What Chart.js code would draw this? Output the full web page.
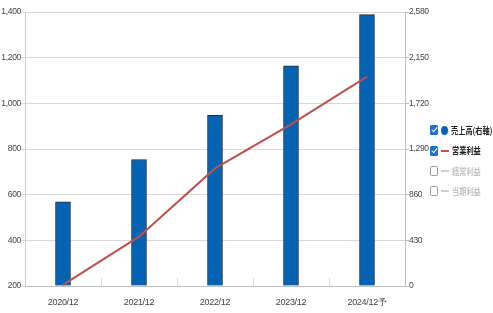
<!DOCTYPE html>
<html>
<head>
<meta charset="utf-8">
<script src="https://cdn.jsdelivr.net/npm/chart.js@4.4.1/dist/chart.umd.min.js"></script>
<style>
html, body { margin: 0; padding: 0; background: #fff; }
#wrap { position: relative; width: 493px; height: 313px; }
#legend { position: absolute; left: 430px; top: 120px; font: bold 9px "Noto Sans CJK JP", sans-serif; }
.row { display: flex; align-items: center; height: 20px; white-space: nowrap; }
.row:nth-child(2) { height: 21px; }
.box { width: 8px; height: 10px; box-sizing: border-box; border-radius: 1.5px; position: relative; margin-right: 3px; }
.box.on { background: #1e6fd9; }
.box.on::after { content: ''; position: absolute; left: 2.5px; top: 1px; width: 2px; height: 5px; border: solid #fff; border-width: 0 1.5px 1.5px 0; transform: rotate(40deg); }
.box.off { border: 1px solid #999; background: #fff; }
.dot { width: 7px; height: 9px; border-radius: 50%; background: #0563b4; margin-right: 3px; }
.dash { width: 8px; height: 2px; margin-right: 3px; }
.t { color: #222; display: inline-block; transform: scaleX(0.8); transform-origin: left center; }
.row.off .t { color: #c4c4c4; }
</style>
</head>
<body>
<div id="wrap">
  <canvas id="c" width="493" height="313"></canvas>
  <div id="legend">
    <div class="row"><div class="box on"></div><div class="dot"></div><span class="t">売上高(右軸)</span></div>
    <div class="row"><div class="box on"></div><div class="dash" style="background:#c0504d"></div><span class="t">営業利益</span></div>
    <div class="row off"><div class="box off"></div><div class="dash" style="background:#d0d0d0"></div><span class="t">経常利益</span></div>
    <div class="row off"><div class="box off"></div><div class="dash" style="background:#d0d0d0"></div><span class="t">当期利益</span></div>
  </div>
</div>
<script>
// --- data ---
const categories = ['2020/12', '2021/12', '2022/12', '2023/12', '2024/12予'];
const salesValues = [792, 1191, 1606, 2072, 2556];      // 売上高 (right axis)
const opProfitValues = [205, 416, 715, 908, 1117];      // 営業利益 (left axis)
const leftTicks = [200, 400, 600, 800, 1000, 1200, 1400];
const rightTicks = [0, 430, 860, 1290, 1720, 2150, 2580];

const xFont = { family: '"Liberation Sans", Arial, sans-serif', size: 9 };
const yFont = { family: '"Liberation Sans", Arial, sans-serif', size: 8.5 };

// squeeze tick text a little, the original uses a narrow face
const narrowText = {
    id: 'narrowText',
    beforeDraw(chart) { chart.ctx.letterSpacing = '-0.3px'; }
};

new Chart(document.getElementById('c'), {
    data: {
        labels: categories,
        datasets: [
            {
                type: 'line',
                label: '営業利益',
                data: opProfitValues,
                yAxisID: 'yL',
                borderColor: '#c0504d',
                borderWidth: 2,
                pointRadius: 0,
                tension: 0,
                order: 0
            },
            {
                type: 'bar',
                label: '売上高(右軸)',
                data: salesValues,
                yAxisID: 'yR',
                backgroundColor: '#0563b4',
                borderColor: '#1c2f45',
                borderWidth: 1,
                borderSkipped: 'bottom',
                barThickness: 15,
                order: 1
            }
        ]
    },
    plugins: [narrowText],
    options: {
        responsive: false,
        animation: false,
        devicePixelRatio: 1,
        layout: { padding: { top: 12, left: 0, right: 0, bottom: 0 } },
        plugins: { legend: { display: false }, tooltip: { enabled: false } },
        scales: {
            x: {
                offset: true,
                grid: { drawOnChartArea: false, tickLength: -8, color: '#d8d8d8', offset: true },
                border: { color: '#bdbdbd' },
                ticks: { font: xFont, color: '#444', padding: 19, maxRotation: 0 },
                afterFit: s => { s.height = 27; }
            },
            yL: {
                position: 'left',
                min: leftTicks[0],
                max: leftTicks[leftTicks.length - 1],
                afterBuildTicks: s => { s.ticks = leftTicks.map(v => ({ value: v })); },
                grid: { color: '#d9d9d9', tickLength: 4 },
                border: { color: '#cfcfcf' },
                ticks: { font: yFont, color: '#444', padding: 0, callback: v => v.toLocaleString('en-US') },
                afterFit: s => { s.width = 25; }
            },
            yR: {
                position: 'right',
                min: rightTicks[0],
                max: rightTicks[rightTicks.length - 1],
                afterBuildTicks: s => { s.ticks = rightTicks.map(v => ({ value: v })); },
                grid: { drawOnChartArea: false, color: '#bdbdbd', tickLength: 4 },
                border: { color: '#bdbdbd' },
                ticks: { font: yFont, color: '#444', padding: 0, callback: v => v.toLocaleString('en-US') },
                afterFit: s => { s.width = 88; }
            }
        }
    }
});
</script>
</body>
</html>
